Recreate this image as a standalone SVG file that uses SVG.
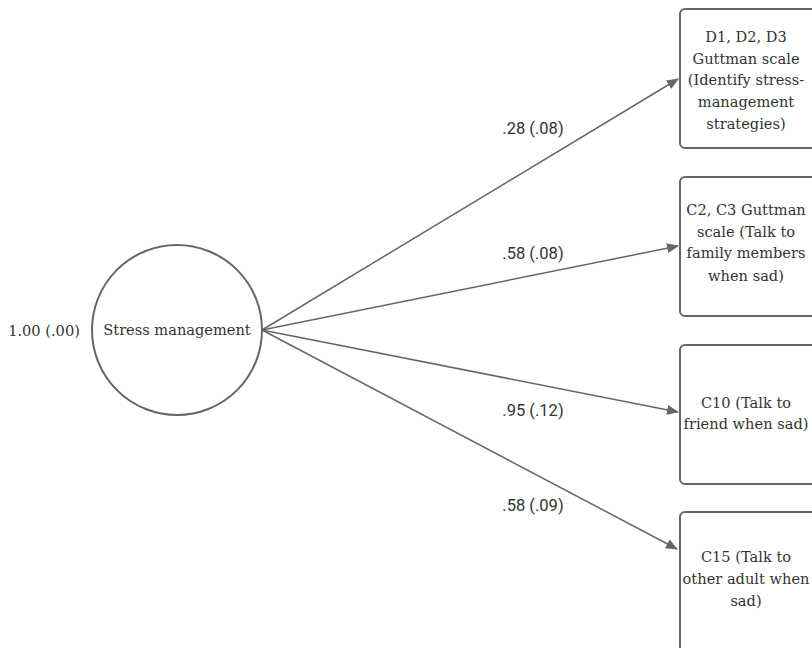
<svg xmlns="http://www.w3.org/2000/svg" width="812" height="648" viewBox="0 0 812 648">
  <defs>
    <marker id="arrow" markerWidth="12" markerHeight="10" refX="11" refY="5" orient="auto" markerUnits="userSpaceOnUse">
      <path d="M0,0 L12,5 L0,10 Z" fill="#666"/>
    </marker>
    <style>
      .box { fill: #fff; stroke: #666; stroke-width: 2; }
      .node-text { font-family: "DejaVu Serif", "Liberation Serif", serif; font-size: 14.6px; fill: #333; text-anchor: middle; }
      .label { font-family: Roboto, "Liberation Sans", sans-serif; font-size: 16.5px; fill: #333; text-anchor: middle; }
      .edge { stroke: #666; stroke-width: 1.5; fill: none; marker-end: url(#arrow); }
    </style>
  </defs>
  <rect width="812" height="648" fill="#fff"/>

  <!-- connectors -->
  <g id="connectors">
    <line class="edge" x1="262" y1="330" x2="678" y2="79"/>
    <line class="edge" x1="262" y1="330" x2="678" y2="246"/>
    <line class="edge" x1="262" y1="330" x2="678" y2="412"/>
    <line class="edge" x1="262" y1="330" x2="677" y2="549"/>
    <text class="label" x="533" y="134">.28 (.08)</text>
    <text class="label" x="533" y="259">.58 (.08)</text>
    <text class="label" x="533" y="416">.95 (.12)</text>
    <text class="label" x="533" y="511">.58 (.09)</text>
  </g>

  <!-- latent factor -->
  <g id="stress-management">
    <circle cx="177" cy="330" r="85" fill="#fff" stroke="#666" stroke-width="2"/>
    <text class="node-text" x="177" y="335">Stress management</text>
    <text class="node-text" x="44" y="336">1.00 (.00)</text>
  </g>

  <!-- indicators -->
  <g id="d-items">
    <rect class="box" x="680" y="9" width="145" height="139" rx="5"/>
    <text class="node-text" x="746" y="42">D1, D2, D3</text>
    <text class="node-text" x="746" y="64">Guttman scale</text>
    <text class="node-text" x="746" y="85">(Identify stress-</text>
    <text class="node-text" x="746" y="107">management</text>
    <text class="node-text" x="746" y="129">strategies)</text>
  </g>

  <g id="c2-c3">
    <rect class="box" x="680" y="177" width="145" height="139" rx="5"/>
    <text class="node-text" x="746" y="215">C2, C3 Guttman</text>
    <text class="node-text" x="746" y="237">scale (Talk to</text>
    <text class="node-text" x="746" y="258">family members</text>
    <text class="node-text" x="746" y="281">when sad)</text>
  </g>

  <g id="c10">
    <rect class="box" x="680" y="345" width="145" height="139" rx="5"/>
    <text class="node-text" x="746" y="408">C10 (Talk to</text>
    <text class="node-text" x="746" y="429">friend when sad)</text>
  </g>

  <g id="c15">
    <rect class="box" x="680" y="512" width="145" height="160" rx="5"/>
    <text class="node-text" x="746" y="562">C15 (Talk to</text>
    <text class="node-text" x="746" y="584">other adult when</text>
    <text class="node-text" x="746" y="606">sad)</text>
  </g>
</svg>
